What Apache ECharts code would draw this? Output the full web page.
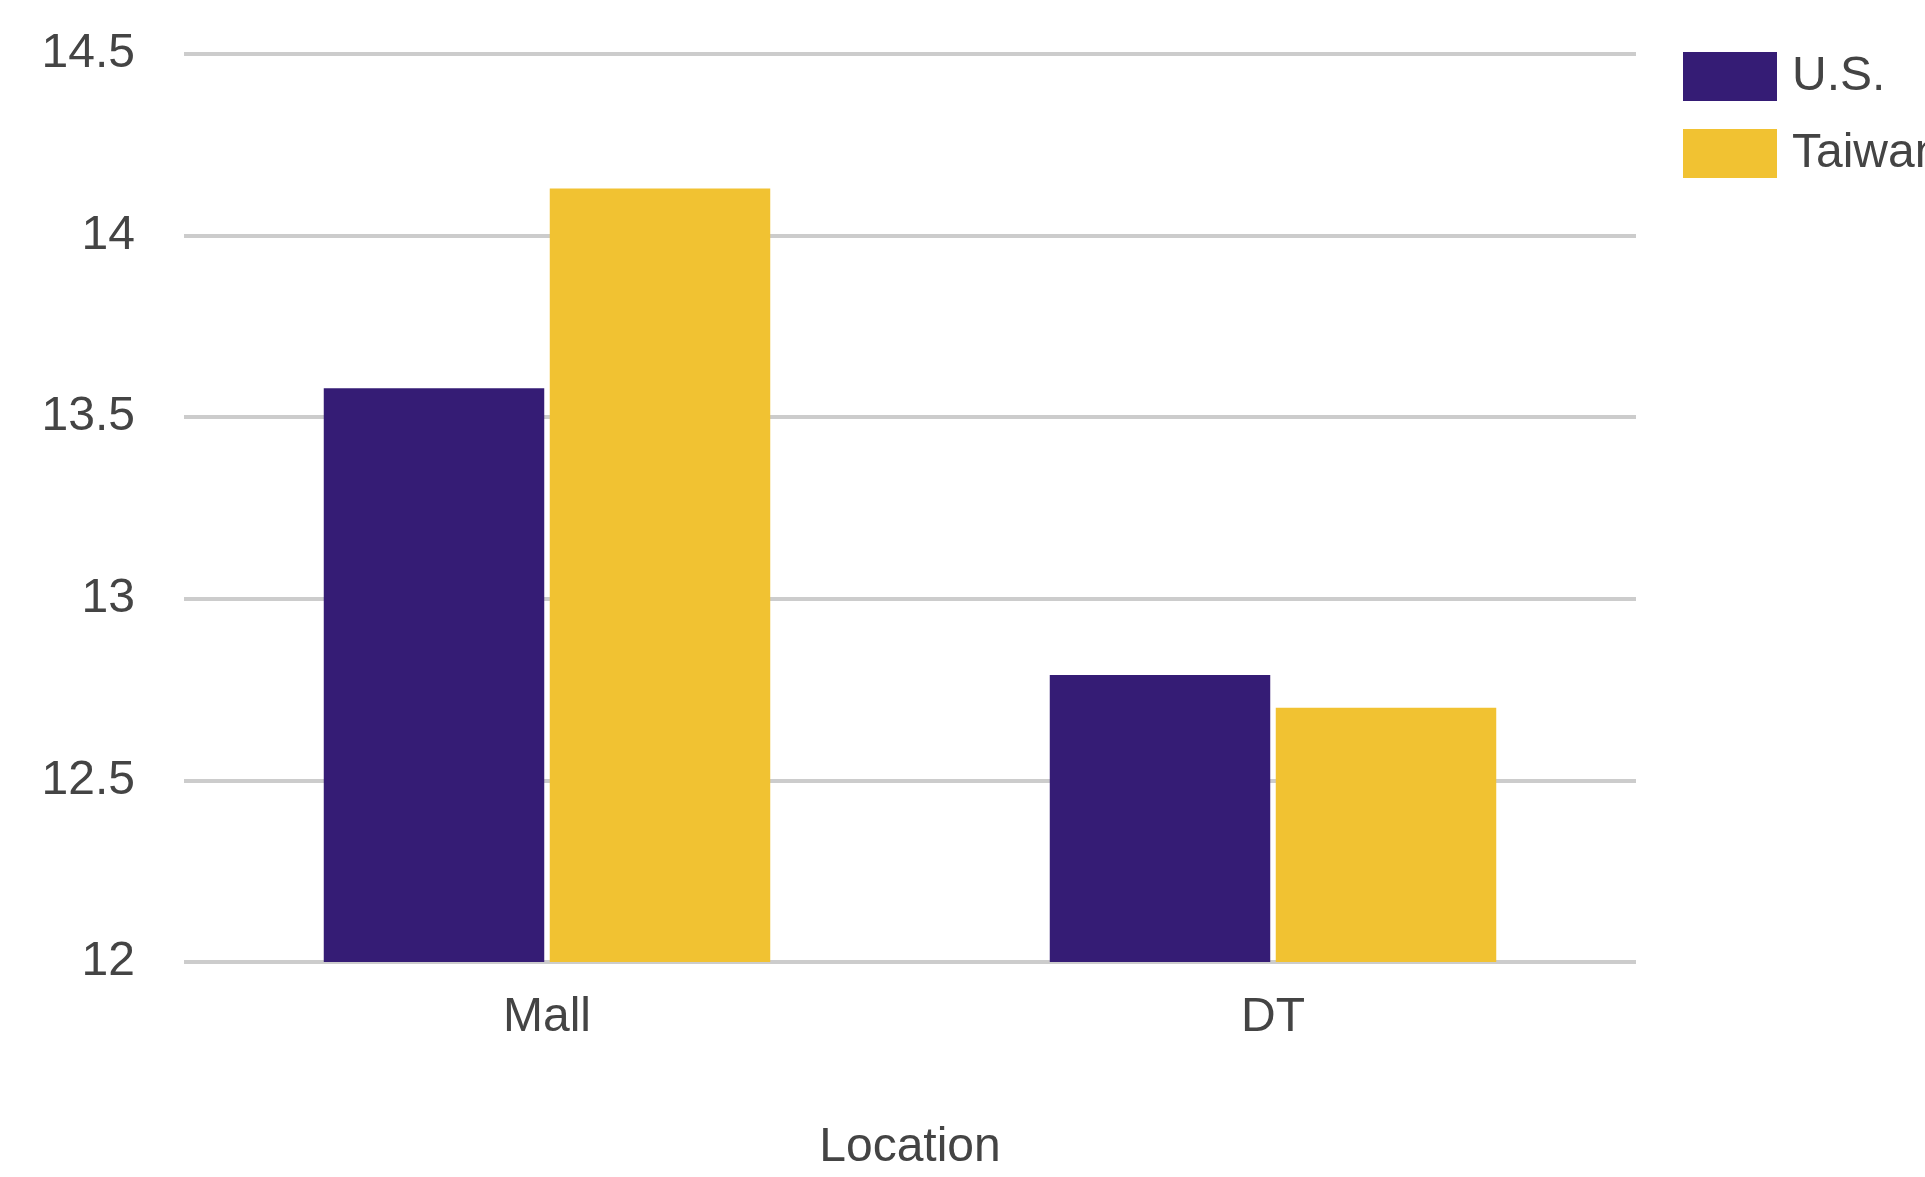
<!DOCTYPE html>
<html>
<head>
<meta charset="utf-8">
<script src="https://cdn.jsdelivr.net/npm/echarts@6/dist/echarts.min.js"></script>
<style>
html,body{margin:0;padding:0;background:#fff;}
#chart{width:1925px;height:1177px;}
</style>
</head>
<body>
<div id="chart"></div>
<script>
const categories = ['Mall', 'DT'];
const usValues = [13.58, 12.79];
const taiwanValues = [14.13, 12.70];
const seriesNames = ['U.S.', 'Taiwan'];
const yTicks = { min: 12, max: 14.5, interval: 0.5 };
const xAxisTitle = 'Location';

const chart = echarts.init(document.getElementById('chart'));
const font = 'Arial, "Liberation Sans", sans-serif';
chart.setOption({
  animation: false,
  backgroundColor: '#fff',
  grid: { left: 184, right: 289, top: 54, bottom: 206, containLabel: false },
  legend: {
    orient: 'vertical',
    left: 1683,
    top: 52,
    padding: 0,
    itemWidth: 94,
    itemHeight: 49,
    itemGap: 28,
    icon: 'rect',
    textStyle: { fontFamily: font, fontSize: 48, color: '#444', padding: [0, 0, 0, 10] },
    data: seriesNames
  },
  xAxis: {
    type: 'category',
    data: categories,
    name: xAxisTitle,
    nameLocation: 'middle',
    nameGap: 162,
    nameTextStyle: { fontFamily: font, fontSize: 48, color: '#444' },
    axisLine: { show: false },
    axisTick: { show: false },
    axisLabel: { fontFamily: font, fontSize: 48, color: '#444', margin: 32 }
  },
  yAxis: {
    type: 'value',
    min: yTicks.min,
    max: yTicks.max,
    interval: yTicks.interval,
    axisLine: { show: false },
    axisTick: { show: false },
    axisLabel: { fontFamily: font, fontSize: 48, color: '#444', margin: 49 },
    splitLine: { lineStyle: { color: '#cccccc', width: 4 } }
  },
  series: [
    {
      name: seriesNames[0],
      type: 'bar',
      data: usValues,
      itemStyle: { color: '#351c75' },
      barCategoryGap: '38.5%',
      barGap: '2.5%'
    },
    {
      name: seriesNames[1],
      type: 'bar',
      data: taiwanValues,
      itemStyle: { color: '#f1c232' }
    }
  ]
});
</script>
</body>
</html>
